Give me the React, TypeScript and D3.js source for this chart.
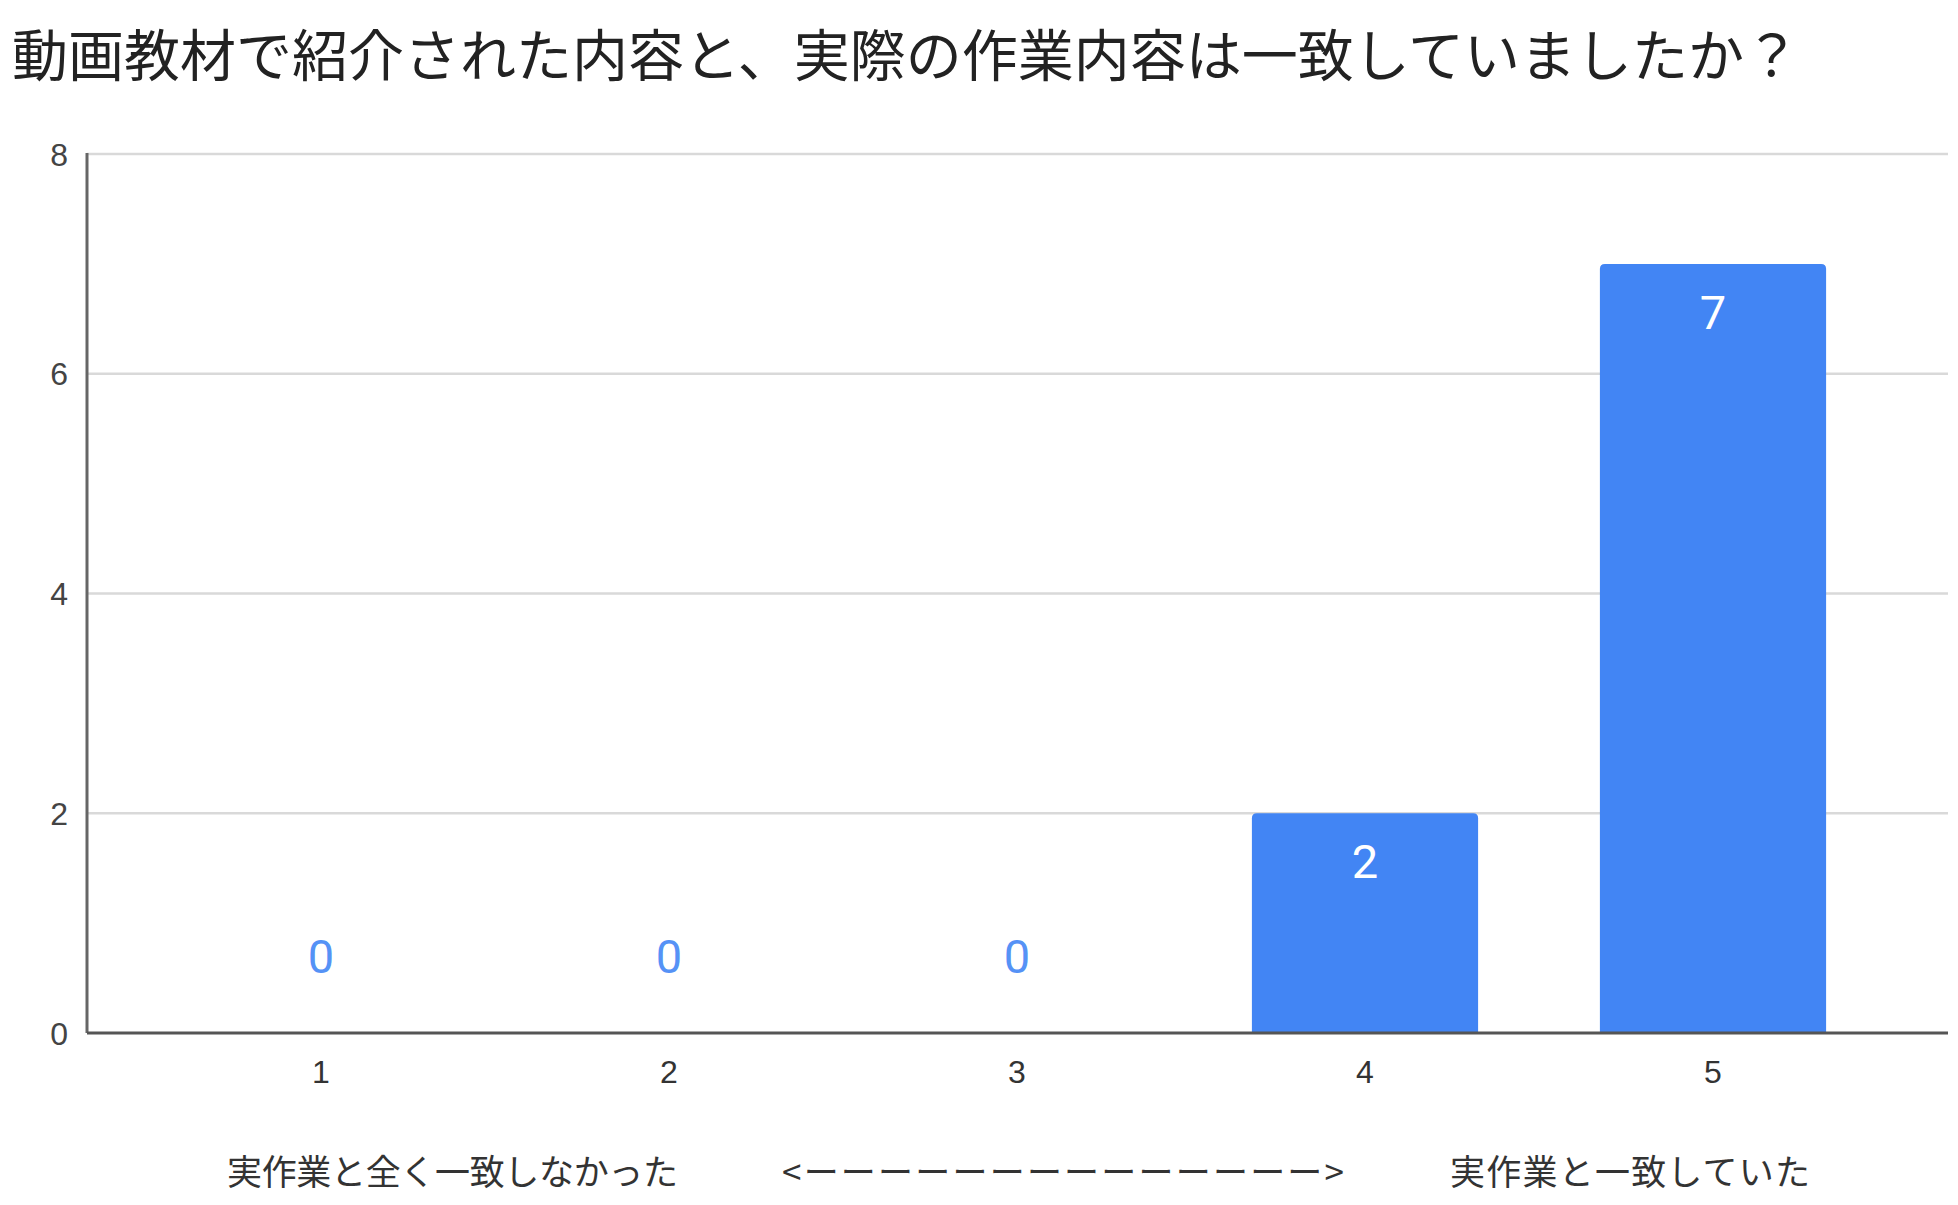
import { useRef, useEffect } from 'react';
import * as d3 from 'd3';

const title = '動画教材で紹介された内容と、実際の作業内容は一致していましたか？';
const categories = ['1', '2', '3', '4', '5'];
const counts = [0, 0, 0, 2, 7];
const yTicks = [0, 2, 4, 6, 8];
// x axis title, split in three parts: low end, arrow, high end
const xAxisParts = ['実作業と全く一致しなかった', '<ーーーーーーーーーーーーーー>', '実作業と一致していた'];

const W = 1958;
const H = 1205;
const BLUE = '#4285f4';

const App = () => {
  const svgRef = useRef<SVGSVGElement>(null);

  useEffect(() => {
    const svg = d3.select(svgRef.current)
      .attr('width', W)
      .attr('height', H);

    svg.selectAll('*').remove();

    const left = 87;
    const right = 1948;

    const x = d3.scaleBand()
      .domain(categories)
      .range([147, 1887])
      .paddingInner(0.35)
      .paddingOuter(0.175);

    const y = d3.scaleLinear()
      .domain([0, 8])
      .range([1033, 154]);

    svg.append('rect').attr('width', W).attr('height', H).attr('fill', '#fff');

    svg.append('text')
      .attr('x', 12)
      .attr('y', 76)
      .attr('font-family', '"Noto Sans CJK JP", sans-serif')
      .attr('font-size', 56)
      .attr('fill', '#222')
      .text(title);

    // gridlines
    svg.append('g')
      .selectAll('line')
      .data(yTicks.filter(t => t > 0))
      .join('line')
      .attr('x1', left)
      .attr('x2', right)
      .attr('y1', d => y(d))
      .attr('y2', d => y(d))
      .attr('stroke', '#d9d9d9')
      .attr('stroke-width', 2.5);

    // y tick labels
    svg.append('g')
      .selectAll('text')
      .data(yTicks)
      .join('text')
      .attr('x', 68)
      .attr('y', d => y(d))
      .attr('dy', '0.36em')
      .attr('text-anchor', 'end')
      .attr('font-family', '"Liberation Sans", Arial, sans-serif')
      .attr('font-size', 32)
      .attr('fill', '#444')
      .text(d => d);

    // bars with slightly rounded top corners
    const r = 5;
    svg.append('g')
      .selectAll('path')
      .data(counts.map((v, i) => ({ c: categories[i], v })).filter(d => d.v > 0))
      .join('path')
      .attr('fill', BLUE)
      .attr('d', d => {
        const x0 = x(d.c) as number;
        const x1 = x0 + x.bandwidth();
        const y0 = y(d.v);
        const yb = y(0);
        return `M${x0},${yb}V${y0 + r}Q${x0},${y0} ${x0 + r},${y0}H${x1 - r}Q${x1},${y0} ${x1},${y0 + r}V${yb}Z`;
      });

    // value labels
    svg.append('g')
      .selectAll('text')
      .data(counts.map((v, i) => ({ c: categories[i], v })))
      .join('text')
      .attr('x', d => (x(d.c) as number) + x.bandwidth() / 2)
      .attr('y', d => d.v > 0 ? y(d.v) + 65 : y(0) - 60)
      .attr('text-anchor', 'middle')
      .attr('font-family', 'Roboto, sans-serif')
      .attr('font-size', 47)
      .attr('fill', d => d.v > 0 ? '#fff' : '#5592f6')
      .text(d => d.v);

    // axes lines
    svg.append('line')
      .attr('x1', left).attr('x2', left)
      .attr('y1', y(8) - 1).attr('y2', y(0))
      .attr('stroke', '#666')
      .attr('stroke-width', 3);

    svg.append('line')
      .attr('x1', left).attr('x2', right)
      .attr('y1', y(0)).attr('y2', y(0))
      .attr('stroke', '#555')
      .attr('stroke-width', 3);

    // x tick labels
    svg.append('g')
      .selectAll('text')
      .data(categories)
      .join('text')
      .attr('x', d => (x(d) as number) + x.bandwidth() / 2)
      .attr('y', 1083)
      .attr('text-anchor', 'middle')
      .attr('font-family', '"Liberation Sans", Arial, sans-serif')
      .attr('font-size', 32)
      .attr('fill', '#333')
      .text(d => d);

    // x axis title, centred under the plot
    const mid = (x.range()[0] + x.range()[1]) / 2;
    const starts = [mid - 790, mid - 235, mid + 433];
    const widths = [451, 562, 360];
    svg.append('g')
      .selectAll('text')
      .data(xAxisParts)
      .join('text')
      .attr('x', (_, i) => starts[i])
      .attr('y', 1185)
      .attr('textLength', (_, i) => widths[i])
      .attr('lengthAdjust', 'spacing')
      .attr('font-family', '"Noto Sans CJK JP", sans-serif')
      .attr('font-size', 35)
      .attr('fill', '#333')
      .text(d => d);
  }, []);

  return <svg ref={svgRef} style={{ position: 'absolute', left: 0, top: 0 }}></svg>;
};

export default App;
